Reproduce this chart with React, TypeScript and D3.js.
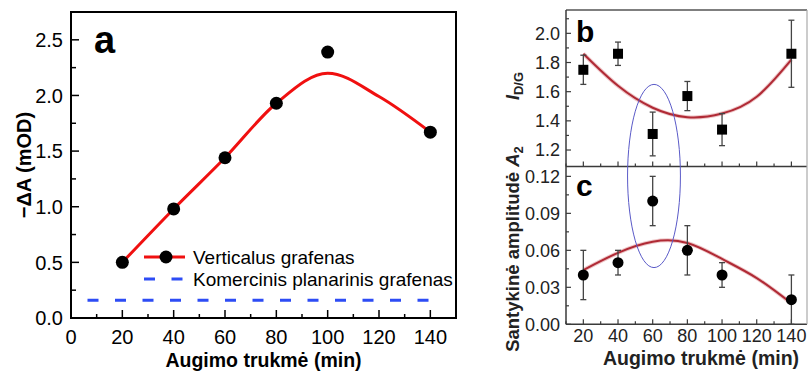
import { useEffect, useRef } from 'react';
import * as d3 from 'd3';

// panel a: growth time vs -dA
const timeA = [20, 40, 60, 80, 100, 140];
const verticalA = [0.5, 0.98, 1.44, 1.93, 2.39, 1.67];
const fitTimeA = [20, 40, 60, 80, 100, 120, 140];
const fitA = [0.5, 0.98, 1.44, 1.93, 2.2, 1.99, 1.67];
const planarTime = [0, 140];
const planarA = [0.16, 0.16];
const legendA = ['Verticalus grafenas', 'Komercinis planarinis grafenas'];
const xTicksA = [0, 20, 40, 60, 80, 100, 120, 140];
const yTicksA = [0, 0.5, 1, 1.5, 2, 2.5];

// panels b and c
const timeBC = [20, 40, 60, 80, 100, 140];
const ratioB = [1.75, 1.86, 1.31, 1.57, 1.34, 1.86];
const ratioErrB = [0.1, 0.08, 0.15, 0.1, 0.11, 0.23];
const fitTimeBC = [20, 40, 60, 80, 100, 120, 140];
const fitB = [1.86, 1.64, 1.49, 1.425, 1.45, 1.565, 1.82];
const ampC = [0.04, 0.05, 0.1, 0.06, 0.04, 0.02];
const ampErrC = [0.02, 0.01, 0.02, 0.02, 0.01, 0.02];
const fitC = [0.044, 0.058, 0.067, 0.066, 0.053, 0.0375, 0.017];
const xTicksBC = [20, 40, 60, 80, 100, 120, 140];
const yTicksB = [1.2, 1.4, 1.6, 1.8, 2.0];
const yTicksC = [0, 0.03, 0.06, 0.09, 0.12];

// ellipse drawn around the 60 min points
const markTime = [45.5, 76];
const markTopB = 1.65;
const markBottomC = 0.046;

const FONT = 'Liberation Sans, Arial, sans-serif';

export default function App() {
  const svgRef = useRef<SVGSVGElement | null>(null);

  useEffect(() => {
    if (!svgRef.current) return;
    const svg = d3.select(svgRef.current);
    svg.selectAll('*').remove();
    svg.attr('width', 809).attr('height', 371).style('font-family', FONT);

    // ---------- panel a ----------
    const xA = d3.scaleLinear().domain([0, 150]).range([71, 456]);
    const yA = d3.scaleLinear().domain([0, 2.75]).range([318, 12]);
    const a = svg.append('g');

    const minorX = d3.range(10, 150, 20);
    const minorY = d3.range(0.25, 2.75, 0.5);

    a.selectAll('.xmaj').data(xTicksA).join('line')
      .attr('x1', d => xA(d)).attr('x2', d => xA(d))
      .attr('y1', yA(0)).attr('y2', yA(0) - 8)
      .attr('stroke', '#000').attr('stroke-width', 1.5);
    a.selectAll('.xmin').data(minorX).join('line')
      .attr('x1', d => xA(d)).attr('x2', d => xA(d))
      .attr('y1', yA(0)).attr('y2', yA(0) - 4)
      .attr('stroke', '#000').attr('stroke-width', 1.5);
    a.selectAll('.ymaj').data(yTicksA).join('line')
      .attr('x1', xA(0)).attr('x2', xA(0) + 8)
      .attr('y1', d => yA(d)).attr('y2', d => yA(d))
      .attr('stroke', '#000').attr('stroke-width', 1.5);
    a.selectAll('.ymin').data(minorY).join('line')
      .attr('x1', xA(0)).attr('x2', xA(0) + 5)
      .attr('y1', d => yA(d)).attr('y2', d => yA(d))
      .attr('stroke', '#000').attr('stroke-width', 1.5);

    a.append('rect')
      .attr('x', xA(0)).attr('y', yA(2.75))
      .attr('width', xA(150) - xA(0)).attr('height', yA(0) - yA(2.75))
      .attr('fill', 'none').attr('stroke', '#000').attr('stroke-width', 2);

    a.selectAll('.xlab').data(xTicksA).join('text')
      .attr('x', d => xA(d)).attr('y', 343.5)
      .attr('text-anchor', 'middle').style('font-size', '20px')
      .text(d => d);
    a.selectAll('.ylab').data(yTicksA).join('text')
      .attr('x', 63).attr('y', d => yA(d)).attr('dy', '0.36em')
      .attr('text-anchor', 'end').style('font-size', '20px')
      .text(d => d.toFixed(1));

    // planar graphene reference line
    const planarLine = d3.line<number>()
      .x((_, i) => xA(planarTime[i]))
      .y(d => yA(d));
    a.append('path')
      .attr('d', planarLine(planarA))
      .attr('fill', 'none').attr('stroke', '#2d4cf5').attr('stroke-width', 3)
      .attr('stroke-dasharray', '11 16.5').attr('stroke-dashoffset', 11);

    const fitLineA = d3.line<number>()
      .x((_, i) => xA(fitTimeA[i]))
      .y(d => yA(d))
      .curve(d3.curveMonotoneX);
    a.append('path')
      .attr('d', fitLineA(fitA))
      .attr('fill', 'none').attr('stroke', '#f01010').attr('stroke-width', 3);

    a.selectAll('.dot').data(verticalA).join('circle')
      .attr('cx', (_, i) => xA(timeA[i])).attr('cy', d => yA(d))
      .attr('r', 6.5).attr('fill', '#000');

    a.append('text')
      .attr('x', 94).attr('y', 53)
      .style('font-size', '38px').style('font-weight', 'bold')
      .text('a');

    // legend
    a.append('line')
      .attr('x1', 144).attr('x2', 185).attr('y1', 257).attr('y2', 257)
      .attr('stroke', '#f01010').attr('stroke-width', 3);
    a.append('circle').attr('cx', 166).attr('cy', 257).attr('r', 6.5).attr('fill', '#000');
    a.append('line')
      .attr('x1', 144).attr('x2', 185).attr('y1', 279).attr('y2', 279)
      .attr('stroke', '#2d4cf5').attr('stroke-width', 3)
      .attr('stroke-dasharray', '11 16.5');
    a.selectAll('.leg').data(legendA).join('text')
      .attr('x', 193).attr('y', (_, i) => 257 + i * 22).attr('dy', '0.35em')
      .style('font-size', '19px')
      .text(d => d);

    a.append('text')
      .attr('x', (xA(0) + xA(150)) / 2).attr('y', 367)
      .attr('text-anchor', 'middle')
      .style('font-size', '19.5px').style('font-weight', 'bold')
      .text('Augimo trukmė (min)');
    a.append('text')
      .attr('transform', `translate(31,${(yA(0) + yA(2.75)) / 2}) rotate(-90)`)
      .attr('text-anchor', 'middle')
      .style('font-size', '20px').style('font-weight', 'bold')
      .text('−ΔA (mOD)');

    // ---------- panels b and c ----------
    const xB = d3.scaleLinear().domain([10, 149]).range([566, 807]);
    const yB = d3.scaleLinear().domain([1.087, 2.16]).range([166.5, 10]);
    const yC = d3.scaleLinear().domain([0, 0.128]).range([324.3, 166.5]);
    const g = svg.append('g');
    const gray = '#3a3a3a';
    const minorXBC = d3.range(10, 150, 10).filter(d => d % 20 !== 0);

    [yB, yC].forEach(y => {
      const y0 = y.range()[0];
      g.selectAll(null).data(xTicksBC).join('line')
        .attr('x1', d => xB(d)).attr('x2', d => xB(d))
        .attr('y1', y0).attr('y2', y0 - 5)
        .attr('stroke', gray).attr('stroke-width', 1.2);
      g.selectAll(null).data(minorXBC).join('line')
        .attr('x1', d => xB(d)).attr('x2', d => xB(d))
        .attr('y1', y0).attr('y2', y0 - 3)
        .attr('stroke', gray).attr('stroke-width', 1.2);
    });
    const yMinorB = d3.range(1.3, 2.15, 0.2);
    const yMinorC = d3.range(0.015, 0.128, 0.03);
    g.selectAll(null).data(yTicksB).join('line')
      .attr('x1', 566).attr('x2', 571).attr('y1', d => yB(d)).attr('y2', d => yB(d))
      .attr('stroke', gray).attr('stroke-width', 1.2);
    g.selectAll(null).data(yMinorB).join('line')
      .attr('x1', 566).attr('x2', 569).attr('y1', d => yB(d)).attr('y2', d => yB(d))
      .attr('stroke', gray).attr('stroke-width', 1.2);
    g.selectAll(null).data(yTicksC).join('line')
      .attr('x1', 566).attr('x2', 571).attr('y1', d => yC(d)).attr('y2', d => yC(d))
      .attr('stroke', gray).attr('stroke-width', 1.2);
    g.selectAll(null).data(yMinorC).join('line')
      .attr('x1', 566).attr('x2', 569).attr('y1', d => yC(d)).attr('y2', d => yC(d))
      .attr('stroke', gray).attr('stroke-width', 1.2);

    // frames
    g.append('line').attr('x1', 566).attr('x2', 807).attr('y1', 10).attr('y2', 10)
      .attr('stroke', '#555').attr('stroke-width', 1.5);
    g.append('line').attr('x1', 566).attr('x2', 807).attr('y1', 166.5).attr('y2', 166.5)
      .attr('stroke', gray).attr('stroke-width', 1.5);
    g.append('line').attr('x1', 566).attr('x2', 807).attr('y1', 324.3).attr('y2', 324.3)
      .attr('stroke', gray).attr('stroke-width', 1.5);
    g.append('line').attr('x1', 566).attr('x2', 566).attr('y1', 10).attr('y2', 324.3)
      .attr('stroke', gray).attr('stroke-width', 1.5);
    g.append('line').attr('x1', 807).attr('x2', 807).attr('y1', 10).attr('y2', 324.3)
      .attr('stroke', '#aaa').attr('stroke-width', 1.2);

    // tick labels
    g.selectAll(null).data(yTicksB).join('text')
      .attr('x', 560).attr('y', d => yB(d)).attr('dy', '0.36em')
      .attr('text-anchor', 'end').style('font-size', '18px').attr('fill', '#222')
      .text(d => d.toFixed(1));
    g.selectAll(null).data(yTicksC).join('text')
      .attr('x', 560).attr('y', d => yC(d)).attr('dy', '0.36em')
      .attr('text-anchor', 'end').style('font-size', '18px').attr('fill', '#222')
      .text(d => d.toFixed(2));
    g.selectAll(null).data(xTicksBC).join('text')
      .attr('x', d => xB(d)).attr('y', 342)
      .attr('text-anchor', 'middle').style('font-size', '18px').attr('fill', '#222')
      .text(d => d);

    // fitted curves
    const fitLineB = d3.line<number>()
      .x((_, i) => xB(fitTimeBC[i])).y(d => yB(d)).curve(d3.curveNatural);
    const fitLineC = d3.line<number>()
      .x((_, i) => xB(fitTimeBC[i])).y(d => yC(d)).curve(d3.curveNatural);
    [fitLineB(fitB), fitLineC(fitC)].forEach(p => {
      g.append('path').attr('d', p).attr('fill', 'none')
        .attr('stroke', '#e3a0a4').attr('stroke-width', 4).attr('opacity', 0.6);
      g.append('path').attr('d', p).attr('fill', 'none')
        .attr('stroke', '#b02a35').attr('stroke-width', 2);
    });

    // error bars
    const errBars = (vals: number[], errs: number[], y: d3.ScaleLinear<number, number>) => {
      vals.forEach((v, i) => {
        const cx = xB(timeBC[i]);
        g.append('line').attr('x1', cx).attr('x2', cx)
          .attr('y1', y(v - errs[i])).attr('y2', y(v + errs[i]))
          .attr('stroke', '#444').attr('stroke-width', 1.3);
        [v - errs[i], v + errs[i]].forEach(e => {
          g.append('line').attr('x1', cx - 3).attr('x2', cx + 3)
            .attr('y1', y(e)).attr('y2', y(e))
            .attr('stroke', '#444').attr('stroke-width', 1.3);
        });
      });
    };
    errBars(ratioB, ratioErrB, yB);
    errBars(ampC, ampErrC, yC);

    g.selectAll('.sq').data(ratioB).join('rect')
      .attr('x', (_, i) => xB(timeBC[i]) - 5).attr('y', d => yB(d) - 5)
      .attr('width', 10).attr('height', 10).attr('fill', '#000');
    g.selectAll('.cc').data(ampC).join('circle')
      .attr('cx', (_, i) => xB(timeBC[i])).attr('cy', d => yC(d))
      .attr('r', 5.5).attr('fill', '#000');

    // ellipse annotation
    const ey1 = yB(markTopB);
    const ey2 = yC(markBottomC);
    g.append('ellipse')
      .attr('cx', (xB(markTime[0]) + xB(markTime[1])) / 2)
      .attr('cy', (ey1 + ey2) / 2)
      .attr('rx', (xB(markTime[1]) - xB(markTime[0])) / 2)
      .attr('ry', (ey2 - ey1) / 2)
      .attr('fill', 'none').attr('stroke', '#5a5ac8').attr('stroke-width', 1);

    g.append('text').attr('x', 576).attr('y', 42)
      .style('font-size', '30px').style('font-weight', 'bold').text('b');
    g.append('text').attr('x', 576).attr('y', 196)
      .style('font-size', '30px').style('font-weight', 'bold').text('c');

    g.append('text')
      .attr('x', 701).attr('y', 365)
      .attr('text-anchor', 'middle').attr('fill', '#222')
      .style('font-size', '19.5px').style('font-weight', 'bold')
      .text('Augimo trukmė (min)');

    const tb = g.append('text')
      .attr('transform', 'translate(519,86) rotate(-90)')
      .attr('text-anchor', 'middle').attr('fill', '#222')
      .style('font-size', '18px').style('font-weight', 'bold');
    tb.append('tspan').style('font-style', 'italic').text('I');
    tb.append('tspan').attr('dy', 4).style('font-size', '13px').text('D/G');

    const tc = g.append('text')
      .attr('transform', 'translate(519,249) rotate(-90)')
      .attr('text-anchor', 'middle').attr('fill', '#222')
      .style('font-size', '18.5px').style('font-weight', 'bold');
    tc.append('tspan').text('Santykinė amplitudė ');
    tc.append('tspan').style('font-style', 'italic').text('A');
    tc.append('tspan').attr('dy', 4).style('font-size', '13px').text('2');
  }, []);

  return (
    <svg
      ref={svgRef}
      style={{ position: 'absolute', left: 0, top: 0, display: 'block', background: '#fff' }}
    />
  );
}
